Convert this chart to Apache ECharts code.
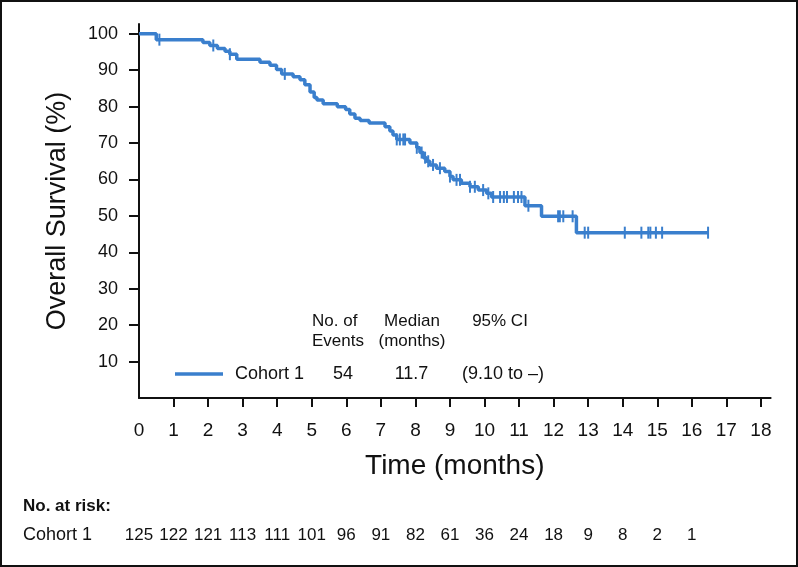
<!DOCTYPE html>
<html>
<head>
<meta charset="utf-8">
<script src="https://cdn.jsdelivr.net/npm/echarts@6/dist/echarts.min.js"></script>
<style>
html,body{margin:0;padding:0;background:#fff;}
#chart{width:798px;height:567px;}
</style>
</head>
<body>
<div id="chart"></div>
<script>
// Kaplan-Meier step points: time (months) and overall survival (%)
const kmTimes = [0, 0.5, 1.85, 2.05, 2.27, 2.49, 2.63, 2.83, 3.50, 3.79, 3.98, 4.13, 4.46, 4.66, 4.80, 4.95, 5.07, 5.15, 5.33, 5.74, 5.98, 6.10, 6.25, 6.40, 6.66, 7.12, 7.26, 7.35, 7.46, 7.84, 8.04, 8.13, 8.23, 8.32, 8.42, 8.61, 8.85, 9.00, 9.09, 9.33, 9.58, 9.82, 10.06, 10.20, 11.17, 11.65, 12.66, 16.47];
const kmSurvival = [100, 98.4, 97.6, 96.8, 96.0, 95.2, 94.4, 93.0, 92.2, 91.4, 90.2, 89.0, 88.2, 87.4, 86.0, 84.0, 82.5, 81.8, 80.8, 80.0, 79.2, 78.0, 76.8, 76.2, 75.5, 74.5, 73.3, 72.2, 71.0, 70.0, 68.7, 67.4, 66.0, 65.0, 64.0, 63.1, 62.2, 60.8, 59.9, 59.0, 58.0, 57.1, 56.2, 55.2, 52.8, 49.9, 45.4, 45.4];
// Censoring times (months)
const censorTimes = [0.59, 2.15, 2.63, 4.22, 7.46, 7.55, 7.65, 7.70, 8.04, 8.18, 8.28, 8.37, 8.51, 8.71, 9.00, 9.19, 9.29, 9.58, 9.72, 9.96, 10.11, 10.25, 10.45, 10.56, 10.65, 10.85, 10.97, 11.07, 11.27, 12.13, 12.18, 12.28, 12.55, 12.90, 13.00, 14.06, 14.54, 14.74, 14.80, 14.96, 15.14, 16.47];
// Axis ticks
const xTickLabels = [0,1,2,3,4,5,6,7,8,9,10,11,12,13,14,15,16,17,18];
const yTickLabels = [10,20,30,40,50,60,70,80,90,100];
// Number at risk
const riskTimes = [0,1,2,3,4,5,6,7,8,9,10,11,12,13,14,15,16];
const riskCounts = [125,122,121,113,111,101,96,91,82,61,36,24,18,9,8,2,1];
// Legend stats
const cohortName = 'Cohort 1';
const cohortEvents = '54';
const cohortMedian = '11.7';
const cohortCI = '(9.10 to \u2013)';

const X_MAX = 18.28;
const BLUE = '#3a7fcd';
const INK = '#111111';
const FONT = '"Liberation Sans", Arial, sans-serif';

function survivalAt(t) {
  let s = kmSurvival[0];
  for (let i = 0; i < kmTimes.length; i++) {
    if (kmTimes[i] <= t) s = kmSurvival[i]; else break;
  }
  return s;
}

const kmData = kmTimes.map((t, i) => [t, kmSurvival[i]]);
const censorData = censorTimes.map(t => [t, survivalAt(t)]);
const riskData = riskTimes.map((t, i) => [t, 0, riskCounts[i]]);

const chart = echarts.init(document.getElementById('chart'), null, {renderer: 'canvas'});
chart.setOption({
  animation: false,
  backgroundColor: '#fff',
  textStyle: {fontFamily: FONT, color: INK},
  grid: [
    {left: 139, right: 27.4, top: 24, bottom: 169, containLabel: false},
    {left: 139, right: 27.4, top: 524, height: 22, containLabel: false}
  ],
  xAxis: [{
    gridIndex: 0, type: 'value', min: 0, max: X_MAX,
    axisLine: {show: true, lineStyle: {color: INK, width: 2}},
    axisTick: {show: true, length: 9, lineStyle: {color: INK, width: 2}, customValues: xTickLabels.slice(1)},
    axisLabel: {customValues: xTickLabels, margin: 23, fontSize: 19, color: INK, fontFamily: FONT},
    splitLine: {show: false},
    name: 'Time (months)', nameLocation: 'middle', nameGap: 54,
    nameTextStyle: {fontSize: 28, color: INK, fontFamily: FONT}
  }, {
    gridIndex: 1, type: 'value', min: 0, max: X_MAX, show: false
  }],
  yAxis: [{
    gridIndex: 0, type: 'value', min: 0, max: 102.7,
    axisLine: {show: true, lineStyle: {color: INK, width: 2}},
    axisTick: {show: true, length: 10, lineStyle: {color: INK, width: 2}, customValues: yTickLabels},
    axisLabel: {customValues: yTickLabels, margin: 21, fontSize: 18, color: INK, fontFamily: FONT},
    splitLine: {show: false},
    name: 'Overall Survival (%)', nameLocation: 'middle', nameGap: 68,
    nameTextStyle: {fontSize: 27, color: INK, fontFamily: FONT}
  }, {
    gridIndex: 1, type: 'value', min: -1, max: 1, show: false
  }],
  legend: {
    show: true, left: 170, top: 359, data: [cohortName],
    icon: 'rect', itemWidth: 48, itemHeight: 3.5,
    selectedMode: false,
    formatter: name => '{a|' + name + '}{b|' + cohortEvents + '}{c|' + cohortMedian + '}{d|' + cohortCI + '}',
    textStyle: {
      fontFamily: FONT, fontSize: 18, color: INK, lineHeight: 20,
      rich: {
        a: {width: 90, padding: [0, 0, 0, 7], fontSize: 18, fontFamily: FONT, color: INK},
        b: {width: 36, align: 'center', fontSize: 18, fontFamily: FONT, color: INK},
        c: {width: 101, align: 'center', fontSize: 18, fontFamily: FONT, color: INK},
        d: {align: 'left', fontSize: 18, fontFamily: FONT, color: INK}
      }
    }
  },
  graphic: [
    {type: 'rect', shape: {x: 1, y: 1, width: 796, height: 565}, style: {fill: 'none', stroke: INK, lineWidth: 2}, silent: true},
    {type: 'text', left: 312, top: 311, style: {text: 'No. of\nEvents', font: '17px ' + FONT, fill: INK, lineHeight: 20, align: 'left'}},
    {type: 'text', x: 412, y: 311, style: {text: 'Median\n(months)', font: '17px ' + FONT, fill: INK, lineHeight: 20, align: 'center'}},
    {type: 'text', x: 500, y: 311, style: {text: '95% CI', font: '17px ' + FONT, fill: INK, lineHeight: 20, align: 'center'}},
    {type: 'text', left: 23, top: 498, style: {text: 'No. at risk:', font: 'bold 17px ' + FONT, fill: INK}},
    {type: 'text', left: 23, top: 526, style: {text: cohortName, font: '18px ' + FONT, fill: INK}}
  ],
  series: [{
    name: cohortName, type: 'line', xAxisIndex: 0, yAxisIndex: 0,
    step: 'end', data: kmData, showSymbol: false, symbol: 'none',
    lineStyle: {color: BLUE, width: 3.5}, itemStyle: {color: BLUE}, z: 3
  }, {
    name: 'Censored', type: 'scatter', xAxisIndex: 0, yAxisIndex: 0,
    data: censorData, symbol: 'rect', symbolSize: [2, 12],
    itemStyle: {color: BLUE, opacity: 1}, z: 4, silent: true
  }, {
    name: 'At risk', type: 'scatter', xAxisIndex: 1, yAxisIndex: 1,
    data: riskData, symbolSize: 0, silent: true,
    itemStyle: {opacity: 1, color: INK},
    label: {show: true, position: 'inside', formatter: p => String(p.data[2]), fontSize: 17, color: INK, opacity: 1, fontFamily: FONT}
  }]
});
</script>
</body>
</html>
